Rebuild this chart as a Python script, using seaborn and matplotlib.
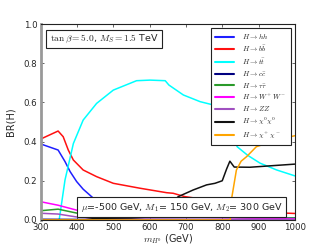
import matplotlib
matplotlib.use('Agg')
import matplotlib.pyplot as plt
import seaborn as sns
import pandas as pd
import numpy as np

# %% Branching ratios
m_hh = [300, 348, 367, 381, 399, 417, 445, 480, 550, 650, 800, 1000]
br_hh = [0.388, 0.357, 0.298, 0.247, 0.196, 0.157, 0.111, 0.08, 0.05, 0.03, 0.015, 0.01]

m_bb = [300, 348, 362, 376, 390, 417, 454, 500, 573, 647, 665, 697, 750, 800, 822, 850, 900, 1000]
br_bb = [0.413, 0.454, 0.425, 0.357, 0.306, 0.255, 0.221, 0.187, 0.162, 0.139, 0.136, 0.119,
         0.105, 0.095, 0.09, 0.05, 0.04, 0.033]

m_tt = [351, 367, 390, 417, 454, 500, 564, 601, 643, 653, 693, 739, 780, 815, 822, 830, 841, 870, 904, 950, 1000]
br_tt = [0.0, 0.204, 0.39, 0.51, 0.595, 0.663, 0.711, 0.714, 0.711, 0.689, 0.638, 0.604,
         0.585, 0.565, 0.56, 0.45, 0.374, 0.33, 0.29, 0.255, 0.225]

m_cc = [300, 500, 700, 1000]
br_cc = [0.003, 0.002, 0.001, 0.0005]

m_tau = [300, 348, 399, 450, 550, 700, 800, 850, 1000]
br_tau = [0.047, 0.055, 0.035, 0.03, 0.025, 0.02, 0.018, 0.012, 0.01]

m_ww = [300, 348, 399, 450, 500, 600, 700, 800, 900, 1000]
br_ww = [0.093, 0.075, 0.05, 0.035, 0.03, 0.02, 0.015, 0.012, 0.008, 0.006]

m_zz = [300, 348, 399, 450, 550, 700, 1000]
br_zz = [0.034, 0.03, 0.015, 0.008, 0.005, 0.004, 0.003]

m_n0 = [300, 420, 450, 550, 600, 630, 660, 679, 720, 757, 780, 800, 812, 821, 833, 876, 1000]
br_n0 = [0.0, 0.0, 0.008, 0.01, 0.015, 0.04, 0.09, 0.119, 0.153, 0.179, 0.187, 0.20,
         0.26, 0.30, 0.27, 0.269, 0.285]

m_ch = [300, 822, 825, 839, 852, 867, 894, 904, 950, 1000]
br_ch = [0.0, 0.0, 0.10, 0.255, 0.30, 0.323, 0.374, 0.38, 0.41, 0.43]

labels = [r'$H\rightarrow hh$', r'$H\rightarrow b\bar{b}$', r'$H\rightarrow t\bar{t}$',
          r'$H\rightarrow c\bar{c}$', r'$H\rightarrow \tau\bar{\tau}$', r'$H\rightarrow W^+W^-$',
          r'$H\rightarrow ZZ$', r'$H\rightarrow \chi^0\chi^0$', r'$H\rightarrow \chi^+\chi^-$']
colors = ['#1f1fff', '#ff1010', '#00ffff', '#000080', '#2a9a2a', '#ff00ff', '#a050c0', '#111111', '#ffa500']
series = [(m_hh, br_hh), (m_bb, br_bb), (m_tt, br_tt), (m_cc, br_cc), (m_tau, br_tau),
          (m_ww, br_ww), (m_zz, br_zz), (m_n0, br_n0), (m_ch, br_ch)]

# %% Plot
sns.set_style('white')
plt.rcParams['font.family'] = ['DejaVu Sans']
plt.rcParams['mathtext.fontset'] = 'cm'
plt.rcParams['font.size'] = 6

fig = plt.figure(figsize=(3.28, 2.46), dpi=100)
ax = fig.add_axes([0.124, 0.106, 0.775, 0.796])

for (mm, bb), lab, col in zip(series, labels, colors):
    df = pd.DataFrame({'m': mm, 'br': bb})
    sns.lineplot(data=df, x='m', y='br', color=col, label=lab, linewidth=1.1, ax=ax)

ax.set_xlim(300, 1000)
ax.set_ylim(0, 1)
ax.set_xticks(np.arange(300, 1001, 100))
ax.set_yticks(np.arange(0, 1.01, 0.2))
ax.set_yticklabels(['0.0', '0.2', '0.4', '0.6', '0.8', '1.0'])
ax.tick_params(direction='in', length=2.5, width=0.5, labelsize=6.2, pad=2.5,
               top=True, right=True, bottom=True, left=True)
for s in ['top', 'right', 'bottom']:
    ax.spines[s].set_color('#222222')
    ax.spines[s].set_linewidth(0.8)
ax.spines['left'].set_color('#999999')
ax.spines['left'].set_linewidth(2.0)

ax.set_xlabel(r'$m_{H^0}$ (GeV)', fontsize=7, labelpad=0)
ax.set_ylabel('BR(H)', fontsize=7, labelpad=6)

leg = ax.legend(loc='upper right', fontsize=5.3, frameon=True, fancybox=False, framealpha=1,
                handlelength=2.5, handletextpad=1.2, labelspacing=0.34,
                borderaxespad=0.5, borderpad=0.6)
leg.get_frame().set_edgecolor('#222222')
leg.get_frame().set_linewidth(0.8)
for ln in leg.get_lines():
    ln.set_linewidth(1.5)

box = dict(boxstyle='square,pad=0.35', fc='white', ec='#222222', lw=0.8)
ax.text(0.035, 0.955, r'$\tan\beta=5.0$, $M_S=1.5$ TeV', transform=ax.transAxes,
        fontsize=6.8, va='top', ha='left', bbox=box)
ax.text(0.157, 0.032, r'$\mu$=-500 GeV, $M_1$= 150 GeV, $M_2$= 300 GeV', transform=ax.transAxes,
        fontsize=6.8, va='bottom', ha='left', bbox=box)

plt.savefig('out.png', dpi=100)
